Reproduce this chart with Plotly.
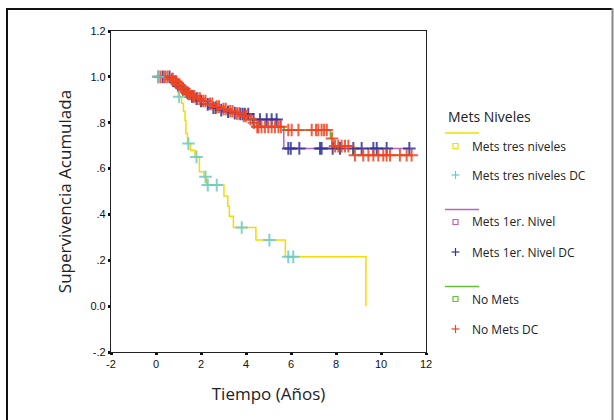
import plotly.graph_objects as go

# ---------------- data ----------------
# Mets tres niveles
tres_t = [0, 0.77, 0.99, 1.14, 1.22, 1.29, 1.33, 1.40, 1.54, 1.73, 1.93, 2.13, 2.25, 3.02, 3.19, 3.26, 3.44, 4.44, 5.75, 9.33]
tres_s = [1.0, 0.956, 0.913, 0.884, 0.85, 0.81, 0.753, 0.709, 0.68, 0.651, 0.586, 0.564, 0.528, 0.48, 0.436, 0.392, 0.343, 0.288, 0.215, 0.0]
tres_end = 9.33
tres_cens = [0.1, 1.03, 1.44, 1.80, 2.20, 2.30, 2.70, 3.81, 5.04, 5.88, 6.10]

# Mets 1er. Nivel
uno_t = [0, 0.65, 0.8, 0.95, 1.1, 1.3, 1.5, 1.7, 1.9, 2.2, 2.5, 2.8, 3.1, 3.4, 3.7, 4.22, 5.52, 5.68]
uno_s = [1.0, 0.99, 0.975, 0.96, 0.945, 0.93, 0.915, 0.905, 0.895, 0.88, 0.865, 0.855, 0.848, 0.842, 0.838, 0.814, 0.782, 0.688]
uno_end = 11.3
uno_cens = [0.3, 0.6, 0.9, 1.0, 1.2, 1.4, 1.6, 1.8, 2.0, 2.3, 2.55, 2.65, 2.9, 3.2, 3.5, 3.75, 3.85, 3.95, 4.1,
            4.33, 4.62, 4.92, 5.14, 5.36, 5.88, 5.99, 6.37, 7.29, 7.36, 7.85, 8.18, 8.77, 9.14, 9.66, 9.81, 10.25, 11.26]

# No Mets
no_t = [0, 0.65, 0.8, 0.95, 1.1, 1.25, 1.4, 1.6, 1.8, 2.0, 2.3, 2.6, 2.9, 3.2, 3.5, 3.8, 4.1, 4.3, 4.45, 5.7, 7.75, 7.9, 8.75]
no_s = [1.0, 0.99, 0.98, 0.965, 0.95, 0.935, 0.925, 0.915, 0.905, 0.895, 0.882, 0.87, 0.86, 0.85, 0.84, 0.83, 0.815, 0.8, 0.782, 0.768, 0.731, 0.698, 0.658]
no_end = 11.4
no_cens = [0.1, 0.2, 0.4, 0.5, 0.7, 0.75, 0.85, 0.9, 1.0, 1.05, 1.15, 1.2, 1.3, 1.35, 1.45, 1.5, 1.65, 1.7, 1.85, 1.95,
           2.1, 2.2, 2.4, 2.5, 2.7, 2.8, 3.0, 3.1, 3.3, 3.4, 3.6, 3.7, 3.9, 4.0, 4.2, 4.35, 4.5, 4.55, 4.69, 4.84, 4.99,
           5.14, 5.29, 5.44, 5.55, 5.88, 6.03, 6.33, 6.92, 7.11, 7.21, 7.36, 7.47, 7.59, 7.82, 7.96, 8.1, 8.25, 8.4, 8.55,
           8.84, 9.21, 9.44, 9.66, 9.88, 10.1, 10.25, 10.4, 10.84, 11.14, 11.36]

x_ticks = [-2, 0, 2, 4, 6, 8, 10, 12]
y_ticks = [-0.2, 0.0, 0.2, 0.4, 0.6, 0.8, 1.0, 1.2]
y_tick_labels = ["-.2", "0.0", ".2", ".4", ".6", ".8", "1.0", "1.2"]

groups = [
    ("Mets tres niveles", tres_t, tres_s, tres_end, tres_cens, "#F5DC00", "#6CCACA"),
    ("Mets 1er. Nivel", uno_t, uno_s, uno_end, uno_cens, "#B866B8", "#333399"),
    ("No Mets", no_t, no_s, no_end, no_cens, "#66C233", "#F04422"),
]


def surv_at(ts, ss, t):
    v = ss[0]
    for a, b in zip(ts, ss):
        if a <= t:
            v = b
    return v


fig = go.Figure()
for name, ts, ss, end, cens, lc, cc in groups:
    xs = list(ts) + ([end] if end > ts[-1] else [])
    ys = list(ss) + ([ss[-1]] if end > ts[-1] else [])
    fig.add_trace(go.Scatter(x=xs, y=ys, mode="lines", line=dict(color=lc, width=1.5, shape="hv"),
                             showlegend=False, hoverinfo="skip"))
for name, ts, ss, end, cens, lc, cc in [groups[1], groups[2], groups[0]]:
    fig.add_trace(go.Scatter(x=cens, y=[surv_at(ts, ss, c) for c in cens], mode="markers",
                             marker=dict(symbol="cross-thin", size=9, line=dict(color=cc, width=2), opacity=0.85),
                             showlegend=False, hoverinfo="skip"))

# page geometry (body margin removed via post_script)
L, R, T, B = 111, 426, 31, 352
W, H = 614, 420


def px(x):
    return (x - L) / (R - L)


def py(y):
    return (B - y) / (B - T)


shapes = []
ann = []
# outer frame
shapes.append(dict(type="line", xref="paper", yref="paper", x0=px(7), x1=px(7), y0=py(8), y1=py(425),
                   line=dict(color="#111", width=2)))
shapes.append(dict(type="line", xref="paper", yref="paper", x0=px(6), x1=px(613), y0=py(9), y1=py(9),
                   line=dict(color="#111", width=2)))
shapes.append(dict(type="line", xref="paper", yref="paper", x0=px(612.5), x1=px(612.5), y0=py(8), y1=py(425),
                   line=dict(color="#888", width=2)))

# legend
ann.append(dict(text="Mets Niveles", x=px(446), y=py(116), xref="paper", yref="paper", xanchor="left",
                yanchor="middle", showarrow=False, font=dict(family="Open Sans", size=14, color="#222")))
leg = [
    (133, 146, 175, "Mets tres niveles", "#F5DC00", "#6CCACA"),
    (209.5, 222, 252, "Mets 1er. Nivel", "#B866B8", "#333399"),
    (286.5, 299, 329, "No Mets", "#66C233", "#F04422"),
]
for ly, sy, cy, name, lc, cc in leg:
    shapes.append(dict(type="line", xref="paper", yref="paper", x0=px(445), x1=px(479), y0=py(ly), y1=py(ly),
                       line=dict(color=lc, width=1.5)))
    shapes.append(dict(type="rect", xref="paper", yref="paper", x0=px(453), x1=px(458), y0=py(sy - 2.5),
                       y1=py(sy + 2.5), line=dict(color=lc, width=1.2)))
    shapes.append(dict(type="line", xref="paper", yref="paper", x0=px(451.5), x1=px(459.5), y0=py(cy), y1=py(cy),
                       line=dict(color=cc, width=1.2)))
    shapes.append(dict(type="line", xref="paper", yref="paper", x0=px(455.5), x1=px(455.5), y0=py(cy - 4),
                       y1=py(cy + 4), line=dict(color=cc, width=1.2)))
    for yy, txt in [(sy, name), (cy, name + " DC")]:
        ann.append(dict(text=txt, x=px(470), y=py(yy), xref="paper", yref="paper", xanchor="left",
                        yanchor="middle", showarrow=False, font=dict(family="Open Sans", size=12, color="#222")))

fig.update_layout(
    width=W, height=H,
    margin=dict(l=L, r=W - R, t=T, b=H - B, pad=0),
    paper_bgcolor="white", plot_bgcolor="white",
    shapes=shapes, annotations=ann,
    xaxis=dict(range=[-2, 12], tickvals=x_ticks, ticktext=[str(v) for v in x_ticks],
               showgrid=False, zeroline=False, showline=True, linecolor="#222", linewidth=1.2, mirror=True,
               ticks="outside", ticklen=2, tickwidth=3, tickcolor="#111",
               tickfont=dict(family="Liberation Sans", size=11, color="#111"),
               title=dict(text="Tiempo (Años)", font=dict(family="Open Sans", size=17, color="#222"), standoff=18)),
    yaxis=dict(range=[-0.2, 1.2], tickvals=y_ticks, ticktext=y_tick_labels,
               showgrid=False, zeroline=False, showline=True, linecolor="#222", linewidth=1.2, mirror=True,
               ticks="outside", ticklen=2, tickwidth=3, tickcolor="#111",
               tickfont=dict(family="Liberation Sans", size=11, color="#111"),
               title=dict(text="Supervivencia Acumulada", font=dict(family="Open Sans", size=17, color="#222"),
                          standoff=14)),
    showlegend=False,
)

fig.write_html("out.html", config={"displayModeBar": False},
               post_script="document.body.style.margin='0';document.body.style.overflow='hidden';")
